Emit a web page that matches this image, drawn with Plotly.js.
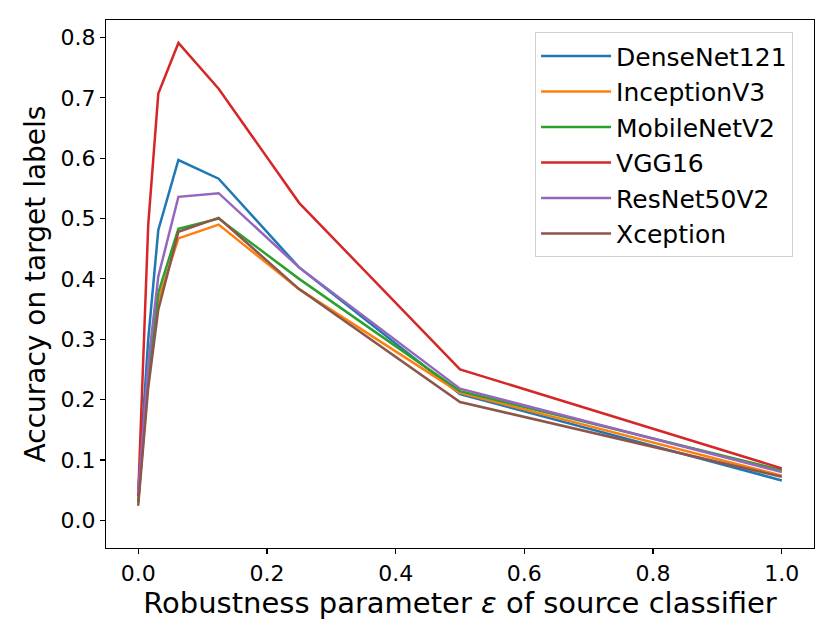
<!DOCTYPE html>
<html>
<head>
<meta charset="utf-8">
<script src="https://cdn.plot.ly/plotly-3.0.1.min.js"></script>
<style>
  html, body { margin: 0; padding: 0; background: #fff; }
  #plot { width: 830px; height: 623px; }
</style>
</head>
<body>
<div id="plot"></div>
<script>
// epsilon values of the source classifier
const epsilons = [0, 0.015625, 0.03125, 0.0625, 0.125, 0.25, 0.5, 1.0]

const models = ['DenseNet121', 'InceptionV3', 'MobileNetV2', 'VGG16', 'ResNet50V2', 'Xception']
const colors = ['#1f77b4', '#ff7f0e', '#2ca02c', '#d62728', '#9467bd', '#8c564b']

const denseNet121 = [0.045, 0.30, 0.481, 0.597, 0.566, 0.419, 0.209, 0.066]
const inceptionV3 = [0.030, 0.23, 0.365, 0.467, 0.490, 0.383, 0.211, 0.074]
const mobileNetV2 = [0.030, 0.24, 0.377, 0.483, 0.500, 0.400, 0.214, 0.083]
const vgg16       = [0.040, 0.49, 0.707, 0.791, 0.715, 0.526, 0.250, 0.086]
const resNet50V2  = [0.045, 0.26, 0.404, 0.536, 0.542, 0.419, 0.218, 0.080]
const xception    = [0.024, 0.22, 0.349, 0.478, 0.501, 0.383, 0.196, 0.072]

const series = [denseNet121, inceptionV3, mobileNetV2, vgg16, resNet50V2, xception]

const data = series.map((ys, i) => ({
    x: epsilons,
    y: ys,
    type: 'scatter',
    mode: 'lines',
    name: models[i],
    line: { color: colors[i], width: 2.5 }
}))

const axisFont = { family: 'DejaVu Sans', size: 22, color: '#000' }

const layout = {
    width: 830,
    height: 623,
    margin: { l: 106, r: 16, t: 20, b: 75 },
    paper_bgcolor: '#fff',
    plot_bgcolor: '#fff',
    font: { family: 'DejaVu Sans', color: '#000' },
    showlegend: true,
    legend: {
        x: 0.606, y: 0.977,
        xanchor: 'left', yanchor: 'top',
        bgcolor: 'rgba(255,255,255,0.8)',
        bordercolor: '#d0d0d0',
        borderwidth: 1,
        font: { family: 'DejaVu Sans', size: 25, color: '#000' },
        itemwidth: 70,
        tracegroupgap: 8
    },
    xaxis: {
        range: [-0.05, 1.05],
        tickvals: [0, 0.2, 0.4, 0.6, 0.8, 1.0],
        ticktext: ['0.0', '0.2', '0.4', '0.6', '0.8', '1.0'],
        ticks: 'outside', ticklen: 5, tickwidth: 1.2, tickcolor: '#000',
        showgrid: false, zeroline: false,
        showline: true, linecolor: '#000', linewidth: 1.2, mirror: true,
        tickfont: axisFont,
        title: {
            text: 'Robustness parameter <i>ε</i> of source classifier',
            font: { family: 'DejaVu Sans', size: 29, color: '#000' },
            standoff: 4
        }
    },
    yaxis: {
        range: [-0.046, 0.829],
        tickvals: [0, 0.1, 0.2, 0.3, 0.4, 0.5, 0.6, 0.7, 0.8],
        ticktext: ['0.0', '0.1', '0.2', '0.3', '0.4', '0.5', '0.6', '0.7', '0.8'],
        ticks: 'outside', ticklen: 5, tickwidth: 1.2, tickcolor: '#000',
        showgrid: false, zeroline: false,
        showline: true, linecolor: '#000', linewidth: 1.2, mirror: true,
        tickfont: axisFont,
        title: {
            text: 'Accuracy on target labels',
            font: { family: 'DejaVu Sans', size: 28, color: '#000' },
            standoff: 6
        }
    }
}

Plotly.newPlot('plot', data, layout, { staticPlot: true, displayModeBar: false })
</script>
</body>
</html>
